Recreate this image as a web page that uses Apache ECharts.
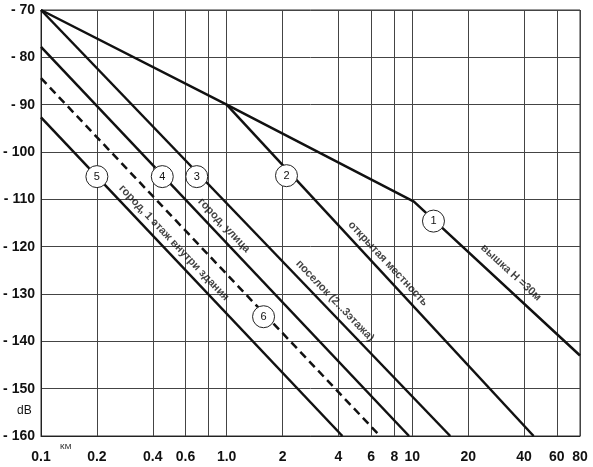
<!DOCTYPE html>
<html>
<head>
<meta charset="utf-8">
<script src="https://cdn.jsdelivr.net/npm/echarts@6/dist/echarts.min.js"></script>
<style>html,body{margin:0;padding:0;background:#fff}#c{width:593px;height:467px}</style>
</head>
<body>
<div id="c"></div>
<script>
// ---- data ----
const xTicks = [0.1, 0.2, 0.4, 0.6, 0.8, 1, 2, 4, 6, 8, 10, 20, 40, 60, 80];
const xTickLabels = [0.1, 0.2, 0.4, 0.6, 1, 2, 4, 6, 8, 10, 20, 40, 60, 80];
const yTicks = [-70, -80, -90, -100, -110, -120, -130, -140, -150, -160];

const line1 = [[0.1, -70], [1, -90], [10.2, -110.5], [80, -143]];   // вышка H =30м
const line2 = [[1, -90], [45, -160]];                              // открытая местность
const line3 = [[0.1, -70], [16, -160]];                            // поселок
const line4 = [[0.1, -77.8], [9.6, -160]];                         // город, улица
const line6 = [[0.1, -84.4], [6.7, -160]];                         // dashed
const line5 = [[0.1, -92.7], [4.2, -160]];                         // город, 1 этаж внутри здания

const markers = [
  {name: '1', value: [13.0, -114.6]},
  {name: '2', value: [2.1, -105.0]},
  {name: '3', value: [0.69, -105.2]},
  {name: '4', value: [0.45, -105.2]},
  {name: '5', value: [0.2, -105.2]},
  {name: '6', value: [1.58, -134.8]}
];

const lineLabels = [
  {name: 'вышка H =30м', value: [34, -125.5], rot: -42.6},
  {name: 'открытая местность', value: [7.4, -123.6], rot: -47},
  {name: 'поселок (2...3этажа)', value: [3.83, -131.45], rot: -46.2},
  {name: 'город, улица', value: [0.967, -115.5], rot: -46.6},
  {name: 'город, 1 этаж внутри здания', value: [0.52, -119.2], rot: -46.6}
];

const FONT = 'Liberation Sans, Arial, sans-serif';
const lineStyle = {color: '#111', width: 2.5};

function mkLine(d, dashed) {
  return {
    type: 'line', data: d, symbol: 'none', silent: true, z: 3,
    lineStyle: Object.assign({}, lineStyle, dashed ? {type: [8, 5]} : {})
  };
}

const chart = echarts.init(document.getElementById('c'), null, {renderer: 'canvas'});
chart.setOption({
  animation: false,
  backgroundColor: '#fff',
  grid: {left: 41, top: 10, right: 13, bottom: 31, show: true, borderColor: '#333', borderWidth: 1},
  xAxis: {
    type: 'log', logBase: 10, min: 0.1, max: 80,
    axisLine: {show: true, lineStyle: {color: '#222', width: 1}},
    axisTick: {show: false, customValues: xTicks},
    splitLine: {show: true, lineStyle: {color: '#444', width: 1}},
    minorSplitLine: {show: false},
    axisLabel: {
      customValues: xTickLabels, margin: 14,
      fontFamily: FONT, fontWeight: 'bold', fontSize: 14, color: '#111',
      formatter: v => (Math.abs(v - 1) < 1e-9 ? '1.0' : String(+v.toPrecision(3)))
    }
  },
  yAxis: {
    type: 'value', min: -160, max: -70, interval: 10,
    axisLine: {show: true, lineStyle: {color: '#222', width: 1}},
    axisTick: {show: false},
    splitLine: {show: true, lineStyle: {color: '#444', width: 1}},
    axisLabel: {
      margin: 6, fontFamily: FONT, fontWeight: 'bold', fontSize: 14, color: '#111',
      formatter: v => '- ' + Math.abs(v)
    }
  },
  graphic: [
    {type: 'text', left: 17, top: 405, style: {text: 'dB', font: '12px ' + FONT, fill: '#111'}},
    {type: 'text', left: 60, top: 443, style: {text: 'КМ', font: '8px ' + FONT, fill: '#111'}}
  ],
  series: [
    mkLine(line1), mkLine(line2), mkLine(line3), mkLine(line4), mkLine(line6, true), mkLine(line5),
    {
      type: 'scatter', z: 5, silent: true,
      data: markers,
      symbol: 'circle', symbolSize: 22,
      itemStyle: {color: '#fff', borderColor: '#222', borderWidth: 1, opacity: 1},
      label: {show: true, position: 'inside', formatter: p => p.name, fontFamily: FONT, fontSize: 11, color: '#111'}
    },
    {
      type: 'scatter', z: 6, silent: true,
      data: lineLabels.map(o => ({name: o.name, value: o.value, label: {rotate: o.rot}})),
      symbolSize: 0,
      label: {show: true, position: 'inside', formatter: p => p.name, fontFamily: FONT, fontWeight: 'bold', fontSize: 11, color: '#111'}
    }
  ]
});
</script>
</body>
</html>
